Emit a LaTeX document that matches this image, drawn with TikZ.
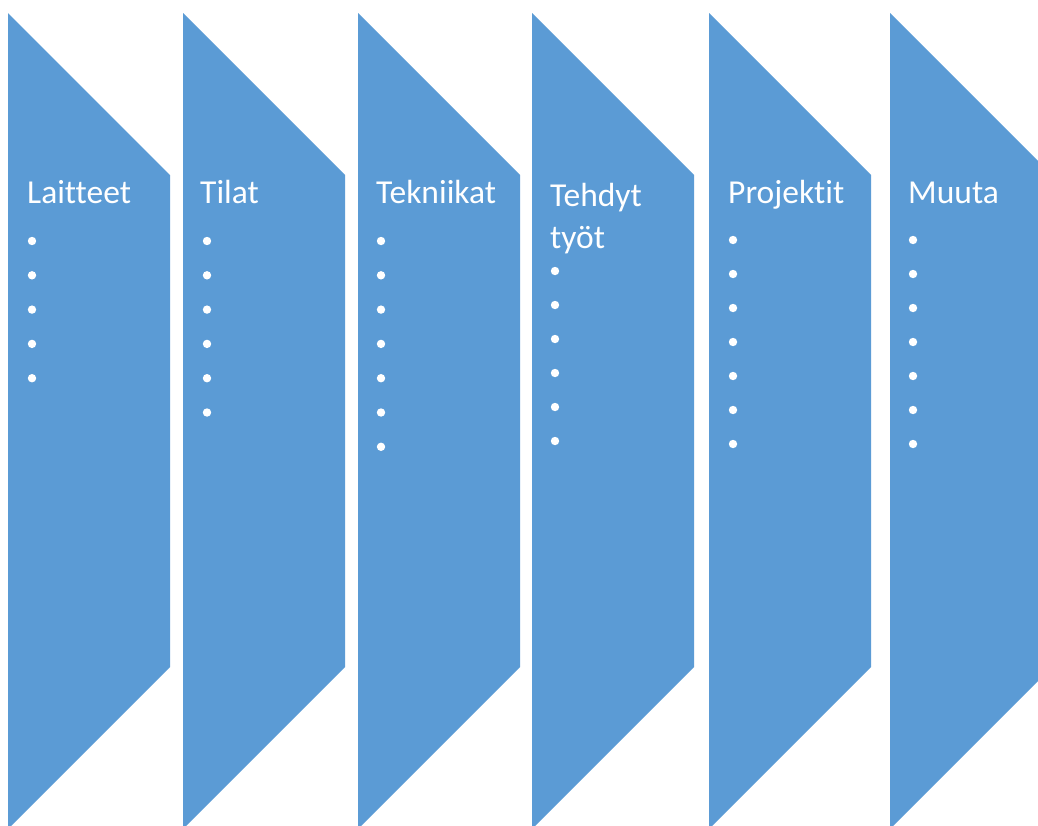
\documentclass[tikz,border=0pt]{standalone}
\usepackage{fontspec}
\setmainfont{Carlito}[Ligatures={NoCommon}]
\definecolor{officeblue}{HTML}{5B9BD5}
\tikzset{
  chevshape/.style={fill=officeblue, draw=none},
  titletext/.style={anchor=base west, text=white, inner sep=0pt, font=\fontsize{33.5}{42}\selectfont, align=left},
  bulletdot/.style={circle, fill=white, inner sep=0pt, minimum size=8.4pt}
}
\begin{document}
\begin{tikzpicture}[x=1pt,y=-1pt]
\useasboundingbox (0,0) rectangle (1038,825);
\clip (0,0) rectangle (1038,825);
% shapes
\foreach \l in {8,183,358,532,709,890}{
  \path[chevshape] (\l,13) -- ({\l+162},175) -- ({\l+162},667) -- (\l,829) -- cycle;
}
% titles
\node[titletext] (t1) at (27,203) {Laitteet};
\node[titletext] (t2) at (200,203) {Tilat};
\node[titletext] (t3) at (376,203) {Tekniikat};
\node[titletext] (t4) at (550,206) {Tehdyt};
\node[titletext] (t4b) at (550,248) {työt};
\node[titletext] (t5) at (728,203) {Projektit};
\node[titletext] (t6) at (908,203) {Muuta};
% bullets
\foreach \k in {0,...,4}{ \node[bulletdot] (a\k) at (32,{241+34.3*\k}) {}; }
\foreach \k in {0,...,5}{ \node[bulletdot] (b\k) at (207,{241+34.3*\k}) {}; }
\foreach \k in {0,...,6}{ \node[bulletdot] (c\k) at (381,{241+34.3*\k}) {}; }
\foreach \k in {0,...,5}{ \node[bulletdot] (d\k) at (555,{271+34*\k}) {}; }
\foreach \k in {0,...,6}{ \node[bulletdot] (e\k) at (733,{240+34*\k}) {}; }
\foreach \k in {0,...,6}{ \node[bulletdot] (f\k) at (913,{240+34*\k}) {}; }
\end{tikzpicture}
\end{document}
